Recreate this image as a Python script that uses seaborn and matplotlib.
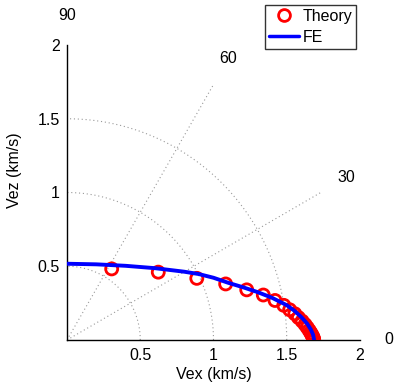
import numpy as np
import pandas as pd
import matplotlib
matplotlib.use("Agg")
import matplotlib.pyplot as plt
from matplotlib.lines import Line2D
import seaborn as sns

sns.set_style("white")
plt.rcParams['font.family'] = ['Liberation Sans', 'DejaVu Sans']
plt.rcParams['text.color'] = 'black'
plt.rcParams['axes.labelcolor'] = 'black'
plt.rcParams['xtick.color'] = 'black'
plt.rcParams['ytick.color'] = 'black'

# Theory (open red circles)
theory_vex = [0.305, 0.623, 0.886, 1.083, 1.227, 1.340, 1.420, 1.480, 1.520, 1.555,
              1.580, 1.605, 1.625, 1.640, 1.653, 1.663, 1.671, 1.677, 1.681, 1.683, 1.684]
theory_vez = [0.482, 0.460, 0.418, 0.380, 0.340, 0.305, 0.268, 0.235, 0.205, 0.178,
              0.152, 0.128, 0.105, 0.085, 0.066, 0.050, 0.036, 0.024, 0.014, 0.006, 0.000]

# FE (blue line)
fe_vex = [0.0, 0.2, 0.4, 0.6, 0.8, 0.9, 1.0, 1.1, 1.2, 1.3, 1.4, 1.5, 1.55, 1.6, 1.64, 1.665, 1.68, 1.687]
fe_vez = [0.517, 0.513, 0.503, 0.487, 0.463, 0.447, 0.422, 0.388, 0.358, 0.325, 0.286, 0.236,
          0.200, 0.155, 0.110, 0.070, 0.035, 0.0]

grid_radii = [0.5, 1.0, 1.5]
radial_angles = [30, 60]
angle_labels = ["0", "30", "60", "90"]
angle_label_pos = [0, 30, 60, 90]
ticks = [0.5, 1, 1.5, 2]
tick_labels = ["0.5", "1", "1.5", "2"]

fig = plt.figure(figsize=(3.94, 3.85), dpi=100)
ax = fig.add_axes([67/394, 45/385, (360-67)/394, (340-45)/385])

gcol = (0.6, 0.6, 0.6)
th = np.linspace(0, np.pi/2, 200)
for r in grid_radii:
    ax.plot(r*np.cos(th), r*np.sin(th), ls=(0, (1, 2.5)), color=gcol, lw=0.8, zorder=1)
for a in radial_angles:
    ax.plot([0, 2*np.cos(np.radians(a))], [0, 2*np.sin(np.radians(a))],
            ls=(0, (1, 2.5)), color=gcol, lw=0.8, zorder=1)

df_t = pd.DataFrame({"Vex": theory_vex, "Vez": theory_vez})
df_f = pd.DataFrame({"Vex": fe_vex, "Vez": fe_vez})

sns.scatterplot(data=df_t, x="Vex", y="Vez", ax=ax, marker="o", s=75,
                facecolor="none", edgecolor="red", linewidth=2.0, zorder=3, legend=False)
sns.lineplot(data=df_f, x="Vex", y="Vez", ax=ax, sort=False, color="blue",
             lw=2.8, zorder=4, legend=False)

fs = 11.5
ax.set_xlim(0, 2)
ax.set_ylim(0, 2)
ax.set_xticks(ticks)
ax.set_xticklabels(tick_labels, fontsize=fs)
ax.set_yticks(ticks)
ax.set_yticklabels(tick_labels, fontsize=fs)
ax.tick_params(length=0, pad=5)
ax.tick_params(axis="x", pad=6)
for s in ["top", "right"]:
    ax.spines[s].set_visible(False)
for s in ["left", "bottom"]:
    ax.spines[s].set_color("black")
    ax.spines[s].set_linewidth(1.0)
ax.set_xlabel("Vex (km/s)", fontsize=fs, labelpad=3)
ax.set_ylabel("Vez (km/s)", fontsize=fs)
ax.yaxis.set_label_coords(-(67 - 22) / 293, (340 - 170) / 295)

for lab, a in zip(angle_labels, angle_label_pos):
    r = 2.2
    ax.text(r*np.cos(np.radians(a)), r*np.sin(np.radians(a)), lab, fontsize=fs,
            ha="center", va="center", clip_on=False)

handles = [Line2D([], [], marker="o", ls="none", mfc="none", mec="red", mew=2, ms=8.5),
           Line2D([], [], color="blue", lw=2.5)]
leg = fig.legend(handles, ["Theory", "FE"], loc="upper right",
                 bbox_to_anchor=(356/394, 1 - 5/385), fontsize=fs, frameon=True,
                 fancybox=False, edgecolor="black", handlelength=1.9,
                 handletextpad=0.2, borderpad=0.25, labelspacing=0.35, borderaxespad=0)
leg.get_frame().set_linewidth(1.0)

fig.savefig("out.png", dpi=100)
